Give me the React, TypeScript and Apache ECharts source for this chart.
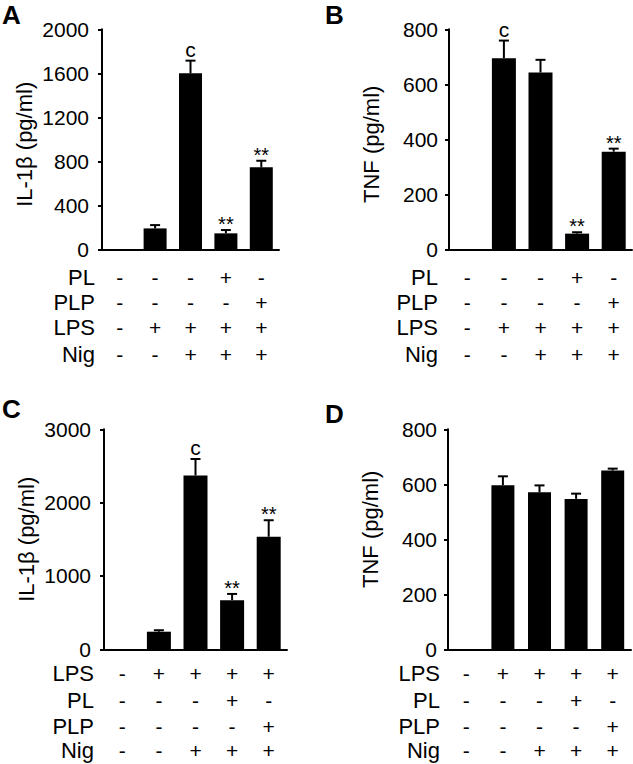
import React, { useEffect, useRef } from "react";
import * as echarts from "echarts";

const FONT = "'Liberation Sans', Arial, Helvetica, sans-serif";

// ---- data ----
const categories = ["g1", "g2", "g3", "g4", "g5"];

const il1bA = [0, 190, 1600, 145, 745];
const il1bAErr = [0, 30, 115, 30, 60];
const il1bANotes = ["", "", "c", "**", "**"];

const tnfB = [0, 695, 643, 57, 355];
const tnfBErr = [0, 64, 46, 5, 11];
const tnfBNotes = ["", "c", "", "**", "**"];

const il1bC = [0, 240, 2370, 670, 1535];
const il1bCErr = [0, 20, 225, 85, 225];
const il1bCNotes = ["", "", "c", "**", "**"];

const tnfD = [0, 597, 571, 547, 650];
const tnfDErr = [0, 32, 25, 19, 7];
const tnfDNotes = ["", "", "", "", ""];

const rowPL = ["-", "-", "-", "+", "-"];
const rowPLP = ["-", "-", "-", "-", "+"];
const rowLPS = ["-", "+", "+", "+", "+"];
const rowNig = ["-", "-", "+", "+", "+"];

const rowNamesAB = ["PL", "PLP", "LPS", "Nig"];
const rowsAB = [rowPL, rowPLP, rowLPS, rowNig];
const rowNamesCD = ["LPS", "PL", "PLP", "Nig"];
const rowsCD = [rowLPS, rowPL, rowPLP, rowNig];

const ticksA = { max: 2000, interval: 400 };
const ticksB = { max: 800, interval: 200 };
const ticksC = { max: 3000, interval: 1000 };
const ticksD = { max: 800, interval: 200 };

// ---- layout ----
const panels = [
  {
    letter: "A", lx: 2, ly: 2,
    left: 102, top: 29.3, width: 177, height: 220,
    yName: "IL-1β (pg/ml)", ticks: ticksA, namePad: [0, 10, 0, 0],
    values: il1bA, errors: il1bAErr, notes: il1bANotes,
    rowNames: rowNamesAB, rows: rowsAB, rowOffsets: [28, 53, 78, 105],
    labelMargin: 13, rowNameGap: 7, barWidth: 23,
  },
  {
    letter: "B", lx: 325, ly: 2,
    left: 449, top: 29.3, width: 183, height: 220,
    yName: "TNF (pg/ml)", ticks: ticksB, namePad: [0, 10, 0, 0],
    values: tnfB, errors: tnfBErr, notes: tnfBNotes,
    rowNames: rowNamesAB, rows: rowsAB, rowOffsets: [28, 53, 78, 105],
    labelMargin: 11, rowNameGap: 11, barWidth: 24,
  },
  {
    letter: "C", lx: 2, ly: 396,
    left: 104, top: 429.3, width: 183, height: 220,
    yName: "IL-1β (pg/ml)", ticks: ticksC, namePad: [0, 0, 0, 0],
    values: il1bC, errors: il1bCErr, notes: il1bCNotes,
    rowNames: rowNamesCD, rows: rowsCD, rowOffsets: [24, 51, 77, 101],
    labelMargin: 13, rowNameGap: 10, barWidth: 24,
  },
  {
    letter: "D", lx: 325, ly: 401,
    left: 448, top: 429.3, width: 183, height: 220,
    yName: "TNF (pg/ml)", ticks: ticksD, namePad: [0, 0, 0, 20],
    values: tnfD, errors: tnfDErr, notes: tnfDNotes,
    rowNames: rowNamesCD, rows: rowsCD, rowOffsets: [24, 51, 77, 101],
    labelMargin: 11, rowNameGap: 8, barWidth: 23,
  },
];

function buildOption() {
  const grid: any[] = [];
  const xAxis: any[] = [];
  const yAxis: any[] = [];
  const series: any[] = [];
  const graphic: any[] = [];

  panels.forEach((p, gi) => {
    grid.push({ left: p.left, top: p.top, width: p.width, height: p.height, containLabel: false });
    const mainX = xAxis.length;
    xAxis.push({
      type: "category",
      gridIndex: gi,
      data: categories,
      axisLine: { show: true, onZero: false, lineStyle: { color: "#000", width: 2 } },
      axisTick: { show: false },
      axisLabel: { show: false },
      splitLine: { show: false },
    });
    p.rows.forEach((row, ri) => {
      xAxis.push({
        type: "category",
        gridIndex: gi,
        position: "bottom",
        offset: p.rowOffsets[ri],
        data: categories,
        name: p.rowNames[ri],
        nameLocation: "start",
        nameGap: p.rowNameGap,
        nameTextStyle: { color: "#000", fontSize: 22, fontFamily: FONT },
        axisLine: { show: false, onZero: false },
        axisTick: { show: false },
        splitLine: { show: false },
        axisLabel: {
          show: true,
          margin: 0,
          verticalAlign: "middle",
          color: "#000",
          fontSize: 21,
          fontFamily: FONT,
          interval: 0,
          formatter: (_v: string, i: number) => row[i],
        },
      });
    });
    const yi = yAxis.length;
    yAxis.push({
      type: "value",
      gridIndex: gi,
      min: 0,
      max: p.ticks.max,
      interval: p.ticks.interval,
      name: p.yName,
      nameLocation: "middle",
      nameGap: 67,
      nameRotate: 90,
      nameTextStyle: { color: "#000", fontSize: 22, fontFamily: FONT, padding: p.namePad },
      axisLine: { show: true, lineStyle: { color: "#000", width: 2 } },
      axisTick: { show: true, length: 4, lineStyle: { color: "#000", width: 2 } },
      axisLabel: {
        color: "#000",
        fontSize: 21,
        fontFamily: FONT,
        margin: p.labelMargin,
        formatter: (v: number) => String(v),
      },
      splitLine: { show: false },
    });
    series.push({
      type: "bar",
      xAxisIndex: mainX,
      yAxisIndex: yi,
      data: p.values,
      barWidth: p.barWidth,
      itemStyle: { color: "#000" },
      silent: true,
    });
    const errs = p.errors;
    const notes = p.notes;
    series.push({
      type: "custom",
      xAxisIndex: mainX,
      yAxisIndex: yi,
      data: p.values.map((v, i) => [i, v, errs[i]]),
      silent: true,
      z: 5,
      renderItem: (params: any, api: any) => {
        const idx = api.value(0);
        const v = api.value(1);
        const e = api.value(2);
        const children: any[] = [];
        const base = api.coord([idx, v]);
        const topP = api.coord([idx, v + e]);
        const half = 5;
        if (e > 0) {
          children.push({
            type: "line",
            shape: { x1: base[0], y1: base[1], x2: topP[0], y2: topP[1] },
            style: { stroke: "#000", lineWidth: 2 },
          });
          children.push({
            type: "line",
            shape: { x1: topP[0] - half, y1: topP[1], x2: topP[0] + half, y2: topP[1] },
            style: { stroke: "#000", lineWidth: 2 },
          });
        }
        const note = notes[params.dataIndex];
        if (note) {
          const isStar = note.indexOf("*") >= 0;
          children.push({
            type: "text",
            style: {
              text: note,
              x: topP[0],
              y: isStar ? topP[1] + 4 : topP[1] - 1,
              align: "center",
              verticalAlign: "bottom",
              fill: "#000",
              fontSize: isStar ? 20 : 21,
              fontFamily: FONT,
            },
          });
        }
        return { type: "group", children };
      },
    });
    graphic.push({
      type: "text",
      left: p.lx,
      top: p.ly,
      style: { text: p.letter, fill: "#000", fontSize: 26, fontWeight: "bold", fontFamily: FONT },
    });
  });

  return { animation: false, backgroundColor: "#fff", grid, xAxis, yAxis, series, graphic };
}

export default function App() {
  const ref = useRef<HTMLDivElement | null>(null);
  useEffect(() => {
    if (!ref.current) return;
    const chart = echarts.init(ref.current, undefined, { renderer: "svg" });
    chart.setOption(buildOption() as any);
    return () => chart.dispose();
  }, []);
  return (
    <div
      ref={ref}
      style={{ position: "fixed", left: 0, top: 0, width: 633, height: 764, background: "#fff" }}
    />
  );
}
